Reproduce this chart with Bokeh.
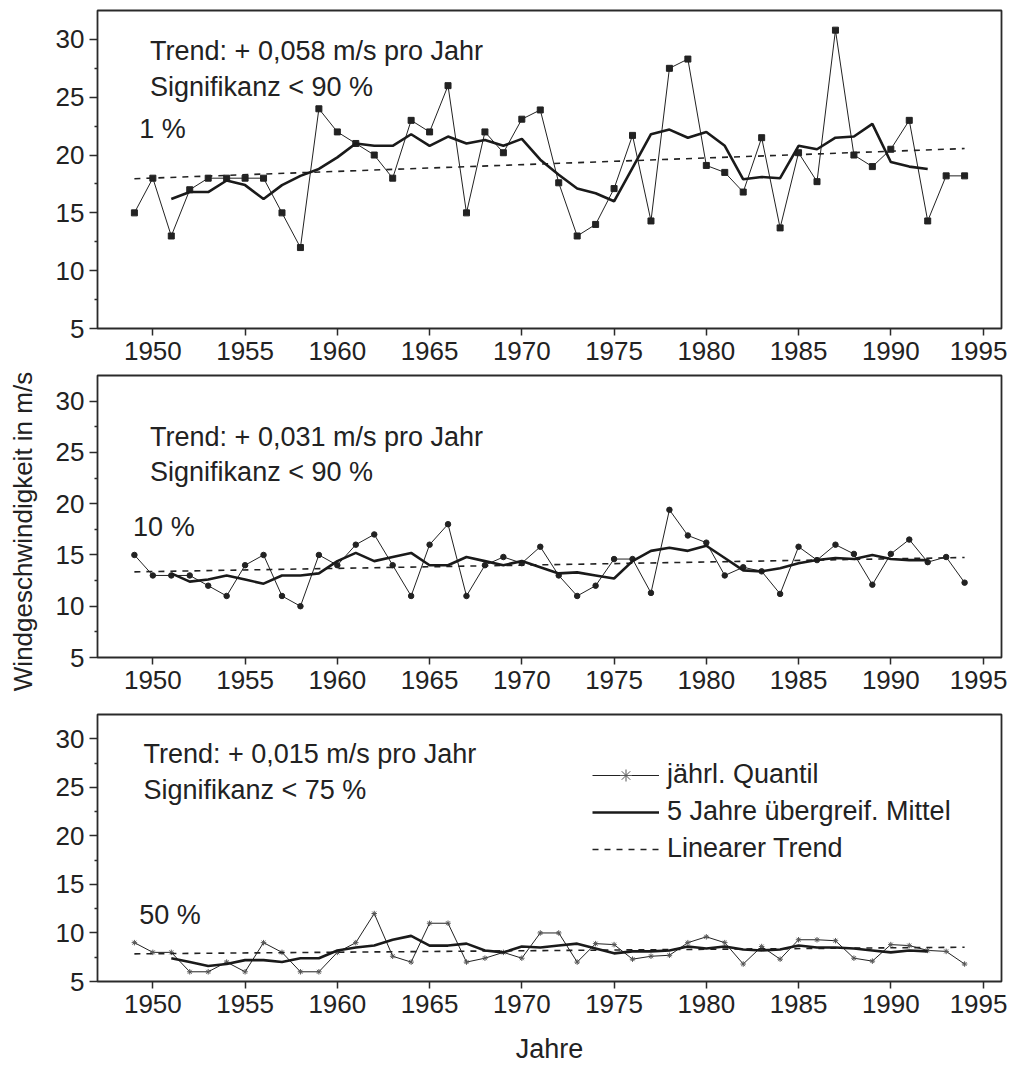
import math
from bokeh.plotting import figure
from bokeh.models import Range1d, FixedTicker, Label, Legend, LegendItem
from bokeh.layouts import column, row
from bokeh.embed import file_html
from bokeh.resources import INLINE

# ---------------- data ----------------
years = list(range(1949, 1995))
ma_years = list(range(1951, 1993))
trend_years = [1949, 1994]
x_ticks = [1950, 1955, 1960, 1965, 1970, 1975, 1980, 1985, 1990, 1995]
y_ticks = [5, 10, 15, 20, 25, 30]
y_minor = [7.5, 12.5, 17.5, 22.5, 27.5]

# 1 % quantile
q01 = [15, 18, 13, 17, 18, 18, 18, 18, 15, 12,
       24, 22, 21, 20, 18, 23, 22, 26, 15, 22,
       20.2, 23.1, 23.9, 17.6, 13, 14, 17.1, 21.7, 14.3, 27.5,
       28.3, 19.1, 18.5, 16.8, 21.5, 13.7, 20.2, 17.7, 30.8, 20.0,
       19.0, 20.5, 23.0, 14.3, 18.2, 18.2]
q01_ma = [16.2, 16.8, 16.8, 17.8, 17.4, 16.2, 17.4, 18.2, 18.8, 19.8,
          21.0, 20.8, 20.8, 21.8, 20.8, 21.6, 21.0, 21.3, 20.8, 21.4,
          19.6, 18.3, 17.1, 16.7, 16.0, 18.9, 21.8, 22.2, 21.5, 22.0,
          20.8, 17.9, 18.1, 18.0, 20.8, 20.5, 21.5, 21.6, 22.7, 19.4,
          19.0, 18.8]
q01_trend = [17.95, 20.56]

# 10 % quantile
q10 = [15, 13, 13, 13, 12, 11, 14, 15, 11, 10,
       15, 14, 16, 17, 14, 11, 16, 18, 11, 14,
       14.8, 14.2, 15.8, 13.0, 11.0, 12.0, 14.6, 14.6, 11.3, 19.4,
       16.9, 16.2, 13.0, 13.8, 13.4, 11.2, 15.8, 14.5, 16.0, 15.1,
       12.1, 15.1, 16.5, 14.3, 14.8, 12.3]
q10_ma = [13.2, 12.4, 12.6, 13.0, 12.6, 12.2, 13.0, 13.0, 13.2, 14.4,
          15.2, 14.4, 14.8, 15.2, 14.0, 14.0, 14.8, 14.4, 14.0, 14.4,
          13.8, 13.2, 13.3, 13.0, 12.7, 14.4, 15.4, 15.7, 15.4, 15.9,
          14.7, 13.5, 13.4, 13.7, 14.2, 14.5, 14.7, 14.6, 15.0, 14.6,
          14.5, 14.5]
q10_trend = [13.35, 14.75]

# 50 % quantile
q50 = [9, 8, 8, 6, 6, 7, 6, 9, 8, 6,
       6, 8, 9, 12, 7.6, 7.0, 11, 11, 7.0, 7.4,
       8.0, 7.4, 10, 10, 7.0, 8.9, 8.8, 7.3, 7.6, 7.7,
       9.0, 9.6, 9.0, 6.8, 8.6, 7.3, 9.3, 9.3, 9.2, 7.4,
       7.1, 8.8, 8.7, 8.2, 8.1, 6.8]
q50_ma = [7.4, 7.0, 6.6, 6.8, 7.2, 7.2, 7.0, 7.4, 7.4, 8.2,
          8.5, 8.7, 9.3, 9.7, 8.7, 8.7, 8.9, 8.2, 8.0, 8.6,
          8.5, 8.7, 8.9, 8.4, 7.9, 8.1, 8.1, 8.2, 8.6, 8.4,
          8.6, 8.3, 8.2, 8.3, 8.7, 8.5, 8.5, 8.4, 8.2, 8.0,
          8.2, 8.1]
q50_trend = [7.85, 8.53]

panel_text = [
    ("Trend: + 0,058 m/s pro Jahr", "Signifikanz < 90 %", "1 %"),
    ("Trend: + 0,031 m/s pro Jahr", "Signifikanz < 90 %", "10 %"),
    ("Trend: + 0,015 m/s pro Jahr", "Signifikanz < 75 %", "50 %"),
]
legend_labels = ["jährl. Quantil", "5 Jahre übergreif. Mittel", "Linearer Trend"]
y_label = "Windgeschwindigkeit in m/s"
x_label = "Jahre"

# ---------------- style ----------------
FONT = "Liberation Sans"
INK = "#222222"
FRAME = "#2a2a2a"
TOTAL_H = 1066
STRIP_W = 48


def make_fig(frame_h, top, bottom):
    p = figure(width=959, height=top + frame_h + bottom,
               x_range=Range1d(1947, 1996), y_range=Range1d(5, 32.5),
               output_backend="svg", toolbar_location=None,
               min_border_left=49, min_border_right=6,
               min_border_top=top, min_border_bottom=bottom)
    p.xgrid.visible = False
    p.ygrid.visible = False
    p.outline_line_color = FRAME
    p.outline_line_width = 1.8
    p.background_fill_color = "white"
    p.border_fill_color = "white"

    xa = p.xaxis[0]
    xa.ticker = FixedTicker(ticks=x_ticks, minor_ticks=[])
    xa.axis_line_color = None
    xa.major_tick_out = 7
    xa.major_tick_in = 0
    xa.minor_tick_out = 0
    xa.minor_tick_in = 0
    xa.major_tick_line_color = FRAME
    xa.major_tick_line_width = 1.5
    xa.major_label_standoff = 6
    xa.major_label_text_font = FONT
    xa.major_label_text_font_size = "26px"
    xa.major_label_text_color = INK

    ya = p.yaxis[0]
    ya.ticker = FixedTicker(ticks=y_ticks, minor_ticks=y_minor)
    ya.axis_line_color = None
    ya.major_tick_out = 8
    ya.major_tick_in = 0
    ya.minor_tick_out = 3
    ya.minor_tick_in = 0
    ya.major_tick_line_color = FRAME
    ya.minor_tick_line_color = FRAME
    ya.major_tick_line_width = 1.5
    ya.minor_tick_line_width = 1.5
    ya.major_label_standoff = 5
    ya.major_label_text_font = FONT
    ya.major_label_text_font_size = "26px"
    ya.major_label_text_color = INK
    return p


def add_texts(p, texts, x1, y1, y2, x3, y3):
    for txt, x, y in ((texts[0], x1, y1), (texts[1], x1, y2), (texts[2], x3, y3)):
        p.add_layout(Label(x=x, y=y, text=txt, text_font=FONT,
                           text_font_size="27px", text_color=INK,
                           text_baseline="alphabetic", text_align="left"))


def add_series(p, raw, ma, trend, marker, size):
    l = p.line(years, raw, line_width=1, color=INK)
    s = p.scatter(years, raw, marker=marker, size=size, color=INK,
                  line_width=1)
    t = p.line(trend_years, trend, line_width=1.6, color=INK, line_dash="6 6")
    m = p.line(ma_years, ma, line_width=2.6, color="#1a1a1a")
    return l, s, m, t


# panel 1
p1 = make_fig(318, 10, 43)
add_series(p1, q01, q01_ma, q01_trend, "square", 6)
add_texts(p1, panel_text[0], 1949.85, 28.97, 25.85, 1949.26, 22.22)

# panel 2
p2 = make_fig(282, 4, 53)
add_series(p2, q10, q10_ma, q10_trend, "circle", 5.5)
add_texts(p2, panel_text[1], 1949.85, 26.49, 23.08, 1948.93, 17.73)

# panel 3
p3_h = TOTAL_H - p1.height - p2.height
p3 = make_fig(267, 4, p3_h - 4 - 267)
l3, s3, m3, t3 = add_series(p3, q50, q50_ma, q50_trend, "asterisk", 5.5)
s3.glyph.line_color = "#555555"
add_texts(p3, panel_text[2], 1949.49, 28.39, 24.68, 1949.26, 11.9)
p3.xaxis[0].axis_label = x_label
p3.xaxis[0].axis_label_text_font = FONT
p3.xaxis[0].axis_label_text_font_size = "27px"
p3.xaxis[0].axis_label_text_font_style = "normal"
p3.xaxis[0].axis_label_text_color = INK
p3.xaxis[0].axis_label_standoff = 18

legend = Legend(items=[LegendItem(label=legend_labels[0], renderers=[l3, s3]),
                       LegendItem(label=legend_labels[1], renderers=[m3]),
                       LegendItem(label=legend_labels[2], renderers=[t3])],
                location=(495, 117), border_line_color=None,
                background_fill_alpha=0, padding=0, margin=0, spacing=6,
                glyph_width=67, glyph_height=30, label_height=30,
                label_standoff=8, label_text_font=FONT,
                label_text_font_size="27px", label_text_color=INK)
p3.add_layout(legend)

# strip holding the shared y-axis title
strip = figure(width=STRIP_W, height=TOTAL_H,
               x_range=Range1d(0, STRIP_W), y_range=Range1d(0, TOTAL_H),
               output_backend="svg", toolbar_location=None,
               min_border_left=0, min_border_right=0,
               min_border_top=0, min_border_bottom=0)
strip.axis.visible = False
strip.xgrid.visible = False
strip.ygrid.visible = False
strip.outline_line_color = None
strip.add_layout(Label(x=22, y=TOTAL_H - 531, text=y_label, angle=math.pi / 2,
                       text_align="center", text_baseline="middle",
                       text_font=FONT, text_font_size="26px", text_color=INK))

layout = row(strip, column(p1, p2, p3))
open("out.html", "w").write(file_html(layout, INLINE))
